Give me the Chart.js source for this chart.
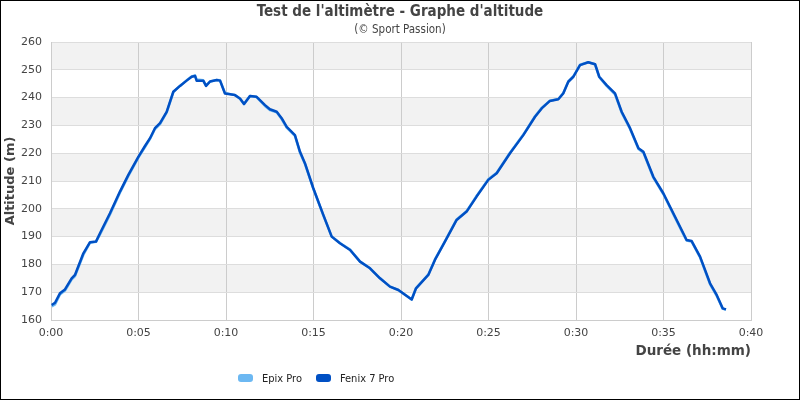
<!DOCTYPE html>
<html>
<head>
<meta charset="utf-8">
<script src="https://cdn.jsdelivr.net/npm/chart.js@4/dist/chart.umd.min.js"></script>
<style>
  html, body { margin: 0; padding: 0; background: #fff; }
  #wrap { position: relative; width: 800px; height: 400px; }
  #frame { position: absolute; left: 0; top: 0; width: 800px; height: 400px; box-sizing: border-box; border: 1px solid #000; pointer-events: none; }
  #legend { position: absolute; top: 372px; left: 238px; font: 11px "DejaVu Sans Condensed", "DejaVu Sans", sans-serif; color: #222; white-space: nowrap; }
  .item { display: inline-block; margin-right: 14px; }
  .box { display: inline-block; width: 15px; height: 8px; border-radius: 3px; vertical-align: middle; margin-right: 9px; position: relative; top: -1px; }
</style>
</head>
<body>
<div id="wrap">
  <canvas id="c" width="800" height="400"></canvas>
  <div id="legend"></div>
  <div id="frame"></div>
</div>
<script>
// Time in minutes
const times = [
  0.04,0.23,0.51,0.8,1.18,1.37,1.85,2.23,2.57,2.8,
  3.37,3.94,4.42,4.99,5.37,5.66,5.94,6.23,6.61,6.99,
  7.37,7.75,8.04,8.23,8.32,8.7,8.86,9.09,9.47,9.66,
  9.94,10.51,10.8,11.03,11.37,11.75,12.23,12.51,12.9,13.18,
  13.47,13.94,14.23,14.51,14.99,15.56,16.04,16.51,17.09,17.66,
  18.23,18.8,19.37,19.85,20.61,20.86,21.56,21.94,22.51,23.18,
  23.75,24.32,24.99,25.47,26.23,26.99,27.66,28.04,28.51,28.99,
  29.27,29.56,29.85,30.23,30.7,31.09,31.33,31.75,32.23,32.61,
  33.09,33.57,33.85,34.42,34.99,35.56,36.13,36.32,36.61,37.09,
  37.66,38.04,38.38,38.57
];
const altFenix = [
  165.4,166.2,169.6,171,175,176.2,184,188,188.2,191.2,
  198.4,206.2,212.2,218.7,222.6,225.4,229,230.8,234.9,242.1,
  244.2,246.1,247.5,247.8,246.1,246.1,244.2,245.8,246.3,246.1,
  241.5,240.9,239.7,237.7,240.6,240.3,237.3,235.8,234.9,232.6,
  229.5,226.5,220.5,216.4,207.4,197.8,190,187.6,185.2,181,
  178.6,175,172,170.8,167.4,171.4,176.2,181.6,188.2,196,
  199,204.4,210.4,212.8,220,226.5,233.1,236.1,238.8,239.4,
  241.5,245.7,247.5,251.7,252.7,252,247.5,244.5,241.5,234.9,
  229,221.8,220.5,211.5,205.6,198.4,191.2,188.8,188.4,182.8,
  173.2,169,164.2,163.8
];
const altEpix = [
  164.9,165.6,169.2,170.6,174.6,175.8,183.5,187.8,188.1,190.8,
  198.0,205.8,211.8,218.4,222.2,225.2,228.7,230.5,234.7,242.0,
  244.2,246.2,247.6,248.0,246.5,246.2,244.3,245.8,246.3,246.2,
  241.7,240.9,239.6,237.7,240.6,240.2,237.0,235.5,234.7,232.3,
  229.2,226.2,220.2,216.2,207.2,197.7,190.0,187.7,185.3,181.0,
  178.6,175.0,172.0,170.8,167.4,171.5,176.3,181.8,188.3,196.2,
  199.1,204.6,210.6,213.0,220.2,226.7,233.3,236.3,238.9,239.5,
  241.6,245.8,247.6,251.8,252.7,252.0,247.3,244.2,241.2,234.6,
  228.7,221.5,220.2,211.2,205.3,198.1,190.9,188.6,188.2,182.5,
  172.9,168.7,164.1,163.7
];
const seriesNames = ["Epix Pro", "Fenix 7 Pro"];
const seriesColors = ["#6cb8f2", "#0050c4"];
const titleText = "Test de l'altimètre - Graphe d'altitude";
const subtitleText = "(© Sport Passion)";
const xTitle = "Durée (hh:mm)";
const yTitle = "Altitude (m)";

function toPts(ts, vs) { return ts.map((t, i) => ({ x: t, y: vs[i] })); }
function fmt(v) { const h = Math.floor(v / 60), m = Math.round(v % 60); return h + ":" + String(m).padStart(2, "0"); }

const bands = {
  id: "bands",
  beforeDraw(chart) {
    const { ctx, chartArea: a, scales: { y } } = chart;
    if (!a) return;
    ctx.save();
    ctx.fillStyle = "#f2f2f2";
    for (let v = 250; v >= 160; v -= 20) {
      const top = y.getPixelForValue(v + 10), bot = y.getPixelForValue(v);
      ctx.fillRect(a.left, top, a.right - a.left, bot - top);
    }
    ctx.restore();
  }
};

new Chart(document.getElementById("c"), {
  type: "line",
  data: {
    datasets: [
      { label: seriesNames[0], order: 1, data: toPts(times, altEpix), borderColor: seriesColors[0], backgroundColor: seriesColors[0], borderWidth: 2.5, pointRadius: 0, tension: 0, borderJoinStyle: "round" },
      { label: seriesNames[1], order: 0, data: toPts(times, altFenix), borderColor: seriesColors[1], backgroundColor: seriesColors[1], borderWidth: 2.5, pointRadius: 0, tension: 0, borderJoinStyle: "round" }
    ]
  },
  options: {
    responsive: false,
    animation: false,
    devicePixelRatio: 1,
    layout: { padding: { left: 0, right: 0, top: 0, bottom: 40.2 } },
    plugins: {
      legend: { display: false },
      tooltip: { enabled: false },
      title: { display: true, text: titleText, color: "#444", font: { family: "'DejaVu Sans Condensed', 'DejaVu Sans'", size: 15, weight: "bold" }, padding: { top: 3.5, bottom: 1.5 } },
      subtitle: { display: true, text: subtitleText, color: "#444", font: { family: "'DejaVu Sans Condensed', 'DejaVu Sans'", size: 11.5 }, padding: { top: 0, bottom: 5.2 } }
    },
    scales: {
      x: {
        type: "linear", min: 0, max: 40,
        afterFit(s) { s.height = 39.8; },
        grid: { color: "#cccccc", drawTicks: false, lineWidth: 1 },
        border: { color: "#cccccc" },
        ticks: { stepSize: 5, padding: 7, color: "#444", font: { family: "'DejaVu Sans'", size: 11 }, callback: (v) => fmt(v) },
        title: { display: true, text: xTitle, align: "end", color: "#444", font: { family: "'DejaVu Sans'", size: 13.5, weight: "bold" }, padding: { top: 4, bottom: 0 } }
      },
      y: {
        min: 160, max: 260,
        afterFit(s) { s.width = 51; },
        grid: { color: "#dddddd", drawTicks: false },
        border: { color: "#cccccc" },
        ticks: { stepSize: 10, padding: 9, color: "#444", font: { family: "'DejaVu Sans'", size: 11 } },
        title: { display: true, text: yTitle, color: "#444", font: { family: "'DejaVu Sans'", size: 13, weight: "bold" }, padding: { top: 2.5, bottom: 0 } }
      },
      yRight: {
        position: "right", min: 160, max: 260,
        afterFit(s) { s.width = 49; },
        grid: { display: false, drawOnChartArea: false },
        border: { display: false },
        ticks: { display: false }
      }
    }
  },
  plugins: [bands]
});

const leg = document.getElementById("legend");
seriesNames.forEach((n, i) => {
  const it = document.createElement("span");
  it.className = "item";
  const b = document.createElement("span");
  b.className = "box";
  b.style.background = seriesColors[i];
  it.appendChild(b);
  it.appendChild(document.createTextNode(n));
  leg.appendChild(it);
});
</script>
</body>
</html>
